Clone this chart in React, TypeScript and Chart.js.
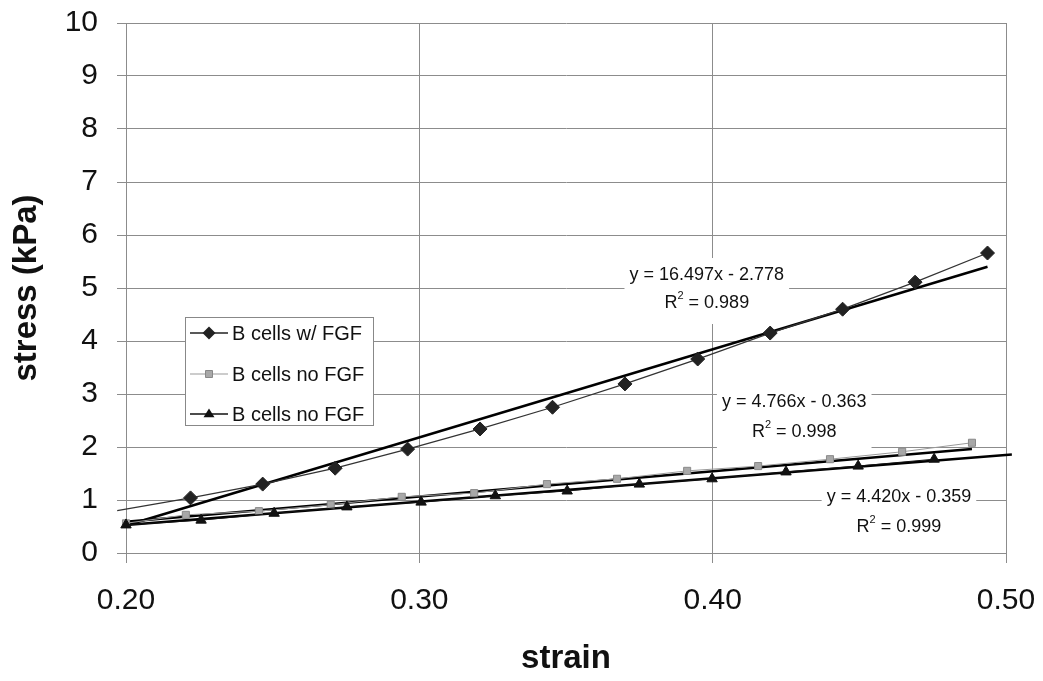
import React, { useEffect, useRef } from 'react';
import { Chart, registerables } from 'chart.js';

Chart.register(...registerables);

// ---- data ----
const strainFGF = [0.197, 0.222, 0.2466, 0.2713, 0.296, 0.3207, 0.3454, 0.3701, 0.3949, 0.4196, 0.4443, 0.469, 0.4937];
const stressFGF = [0.80, 1.04, 1.30, 1.60, 1.96, 2.34, 2.75, 3.19, 3.66, 4.15, 4.60, 5.11, 5.66];

const strainNoFGF = [0.2, 0.2204, 0.2453, 0.2698, 0.294, 0.3187, 0.3435, 0.3674, 0.3913, 0.4155, 0.44, 0.4646, 0.4884];
const stressNoFGF = [0.56, 0.72, 0.79, 0.91, 1.06, 1.13, 1.30, 1.40, 1.55, 1.64, 1.77, 1.91, 2.08];

const strainNoFGF2 = [0.2, 0.2256, 0.2505, 0.2753, 0.3006, 0.3259, 0.3504, 0.375, 0.3998, 0.425, 0.4496, 0.4755];
const stressNoFGF2 = [0.53, 0.62, 0.75, 0.87, 0.96, 1.08, 1.17, 1.30, 1.40, 1.53, 1.64, 1.77];

// trend line end points (strain, stress)
const trendFGFx = [0.2, 0.4937];
const trendFGFy = [0.52, 5.40];
const trendNoFGFx = [0.2, 0.4884];
const trendNoFGFy = [0.59, 1.96];
const trendNoFGF2x = [0.2, 0.502];
const trendNoFGF2y = [0.53, 1.86];

const seriesLabels = ['B cells w/ FGF', 'B cells no FGF', 'B cells no FGF'];
const equationTexts = ['y = 16.497x - 2.778', 'y = 4.766x - 0.363', 'y = 4.420x - 0.359'];
const r2Values = ['0.989', '0.998', '0.999'];
// anchors of equation labels in data units: [strain, stress of line 1, stress of line 2]
const equationAnchorX = [0.398, 0.4278, 0.4635];
const equationLine1Y = [5.245, 2.85, 1.057];
const equationLine2Y = [4.717, 2.28, 0.49];

const xTickValues = [0.2, 0.3, 0.4, 0.5];
const yTickValues = [0, 1, 2, 3, 4, 5, 6, 7, 8, 9, 10];

const FONT = '"Liberation Sans", Arial, sans-serif';
const GRID = '#8c8c8c';

function pts(xs: number[], ys: number[]) {
  return xs.map((x, i) => ({ x, y: ys[i] }));
}

function drawMarker(ctx: CanvasRenderingContext2D, kind: string, x: number, y: number) {
  ctx.save();
  ctx.beginPath();
  if (kind === 'diamond') {
    const r = 6.5;
    ctx.moveTo(x, y - r);
    ctx.lineTo(x + r, y);
    ctx.lineTo(x, y + r);
    ctx.lineTo(x - r, y);
    ctx.closePath();
    ctx.fillStyle = '#222';
    ctx.fill();
  } else if (kind === 'square') {
    ctx.rect(x - 3.5, y - 3.5, 7, 7);
    ctx.fillStyle = '#a8a8a8';
    ctx.fill();
    ctx.strokeStyle = '#888';
    ctx.lineWidth = 1;
    ctx.stroke();
  } else {
    const r = 5.5;
    ctx.moveTo(x, y - r);
    ctx.lineTo(x + r, y + r * 0.6);
    ctx.lineTo(x - r, y + r * 0.6);
    ctx.closePath();
    ctx.fillStyle = '#111';
    ctx.fill();
  }
  ctx.restore();
}

const equationPlugin = {
  id: 'equations',
  beforeDatasetsDraw(chart: any) {
    const { ctx, scales } = chart;
    const xs = scales.x;
    const ys = scales.y;
    ctx.save();
    for (let i = 0; i < equationTexts.length; i++) {
      const cx = xs.getPixelForValue(equationAnchorX[i]);
      const y1 = ys.getPixelForValue(equationLine1Y[i]);
      const y2 = ys.getPixelForValue(equationLine2Y[i]);
      ctx.font = `18px ${FONT}`;
      const w1 = ctx.measureText(equationTexts[i]).width;
      const boxW = w1 + 10;
      ctx.fillStyle = '#ffffff';
      ctx.fillRect(cx - boxW / 2, y1 - 17, boxW, y2 - y1 + 38);
      ctx.fillStyle = '#111';
      ctx.textAlign = 'center';
      ctx.textBaseline = 'middle';
      ctx.fillText(equationTexts[i], cx, y1);
      // R^2 line
      const rest = ' = ' + r2Values[i];
      ctx.font = `18px ${FONT}`;
      const wR = ctx.measureText('R').width;
      const wRest = ctx.measureText(rest).width;
      ctx.font = `11px ${FONT}`;
      const wSup = ctx.measureText('2').width;
      const total = wR + wSup + wRest;
      const x0 = cx - total / 2;
      ctx.textAlign = 'left';
      ctx.font = `18px ${FONT}`;
      ctx.fillText('R', x0, y2);
      ctx.font = `11px ${FONT}`;
      ctx.fillText('2', x0 + wR, y2 - 7);
      ctx.font = `18px ${FONT}`;
      ctx.fillText(rest, x0 + wR + wSup, y2);
    }
    ctx.restore();
  },
};

const legendBox = { left: 185, top: 317, width: 188, height: 108 };
const legendRows = [333, 374, 414];
const legendMarkers = ['diamond', 'square', 'triangle'];
const legendLineColors = ['#222', '#999', '#111'];

const legendPlugin = {
  id: 'customLegend',
  afterDatasetsDraw(chart: any) {
    const { ctx } = chart;
    ctx.save();
    ctx.fillStyle = '#fff';
    ctx.fillRect(legendBox.left, legendBox.top, legendBox.width, legendBox.height);
    ctx.strokeStyle = '#888';
    ctx.lineWidth = 1;
    ctx.strokeRect(legendBox.left + 0.5, legendBox.top + 0.5, legendBox.width, legendBox.height);
    for (let i = 0; i < seriesLabels.length; i++) {
      const y = legendRows[i];
      ctx.beginPath();
      ctx.moveTo(190, y);
      ctx.lineTo(228, y);
      ctx.strokeStyle = legendLineColors[i];
      ctx.lineWidth = i === 1 ? 1 : 1.5;
      ctx.stroke();
      drawMarker(ctx, legendMarkers[i], 209, y);
      ctx.fillStyle = '#111';
      ctx.font = `20px ${FONT}`;
      ctx.textAlign = 'left';
      ctx.textBaseline = 'middle';
      ctx.fillText(seriesLabels[i], 232, y + 1);
    }
    ctx.restore();
  },
};

export default function App() {
  const ref = useRef<HTMLCanvasElement | null>(null);

  useEffect(() => {
    document.body.style.margin = '0';
    const canvas = ref.current;
    if (!canvas) return;
    const chart = new Chart(canvas, {
      type: 'scatter',
      data: {
        datasets: [
          {
            label: 'trend FGF',
            data: pts(trendFGFx, trendFGFy),
            showLine: true,
            borderColor: '#000',
            borderWidth: 2.5,
            pointRadius: 0,
            clip: 12,
            order: 5,
          },
          {
            label: 'trend no FGF',
            data: pts(trendNoFGFx, trendNoFGFy),
            showLine: true,
            borderColor: '#000',
            borderWidth: 2.5,
            pointRadius: 0,
            clip: 12,
            order: 5,
          },
          {
            label: 'trend no FGF 2',
            data: pts(trendNoFGF2x, trendNoFGF2y),
            showLine: true,
            borderColor: '#000',
            borderWidth: 2.5,
            pointRadius: 0,
            clip: 12,
            order: 5,
          },
          {
            label: seriesLabels[1],
            data: pts(strainNoFGF, stressNoFGF),
            showLine: true,
            borderColor: '#9a9a9a',
            borderWidth: 1,
            pointStyle: 'rect',
            pointRadius: 5,
            pointBackgroundColor: '#a8a8a8',
            pointBorderColor: '#8a8a8a',
            pointBorderWidth: 1,
            clip: 12,
            order: 3,
          },
          {
            label: seriesLabels[2],
            data: pts(strainNoFGF2, stressNoFGF2),
            showLine: true,
            borderColor: '#111',
            borderWidth: 1,
            pointStyle: 'triangle',
            pointRadius: 6,
            pointBackgroundColor: '#111',
            pointBorderColor: '#111',
            pointBorderWidth: 1,
            clip: 12,
            order: 2,
          },
          {
            label: seriesLabels[0],
            data: pts(strainFGF, stressFGF),
            showLine: true,
            borderColor: '#333',
            borderWidth: 1.3,
            pointStyle: 'rectRot',
            pointRadius: strainFGF.map((_, i) => (i === 0 ? 0 : 7)),
            pointBackgroundColor: '#222',
            pointBorderColor: '#222',
            pointBorderWidth: 1,
            clip: 12,
            order: 1,
          },
        ],
      },
      options: {
        animation: false,
        responsive: false,
        devicePixelRatio: 1,
        layout: { padding: { left: 0, right: 37, top: 23, bottom: 0 } },
        plugins: {
          legend: { display: false },
          tooltip: { enabled: false },
        },
        scales: {
          x: {
            type: 'linear',
            min: 0.2,
            max: 0.5,
            afterFit: (s: any) => {
              s.height = 128;
              s.paddingLeft = 0;
              s.paddingRight = 0;
            },
            afterBuildTicks: (s: any) => {
              s.ticks = xTickValues.map((v) => ({ value: v }));
            },
            ticks: {
              color: '#111',
              font: { family: FONT, size: 30 },
              padding: 20,
              callback: (v: any) => Number(v).toFixed(2),
            },
            grid: { color: GRID, lineWidth: 1, tickLength: 10, drawTicks: true },
            border: { color: GRID, width: 1 },
            title: {
              display: true,
              text: 'strain',
              color: '#111',
              font: { family: FONT, size: 33, weight: 'bold' },
              padding: { top: 0, bottom: 2 },
            },
          },
          y: {
            type: 'linear',
            min: 0,
            max: 10,
            afterFit: (s: any) => {
              s.width = 126;
              s.paddingTop = 0;
              s.paddingBottom = 0;
            },
            afterBuildTicks: (s: any) => {
              s.ticks = yTickValues.map((v) => ({ value: v }));
            },
            ticks: {
              color: '#111',
              font: { family: FONT, size: 30 },
              padding: 19,
            },
            grid: { color: GRID, lineWidth: 1, tickLength: 9, drawTicks: true },
            border: { color: GRID, width: 1 },
            title: {
              display: true,
              text: 'stress (kPa)',
              color: '#111',
              font: { family: FONT, size: 33, weight: 'bold' },
              padding: { top: 7, bottom: 0 },
            },
          },
        },
      },
      plugins: [equationPlugin, legendPlugin],
    } as any);
    return () => chart.destroy();
  }, []);

  return (
    <div style={{ position: 'fixed', left: 0, top: 0, width: 1043, height: 681, background: '#fff' }}>
      <canvas ref={ref} width={1043} height={681} />
    </div>
  );
}
